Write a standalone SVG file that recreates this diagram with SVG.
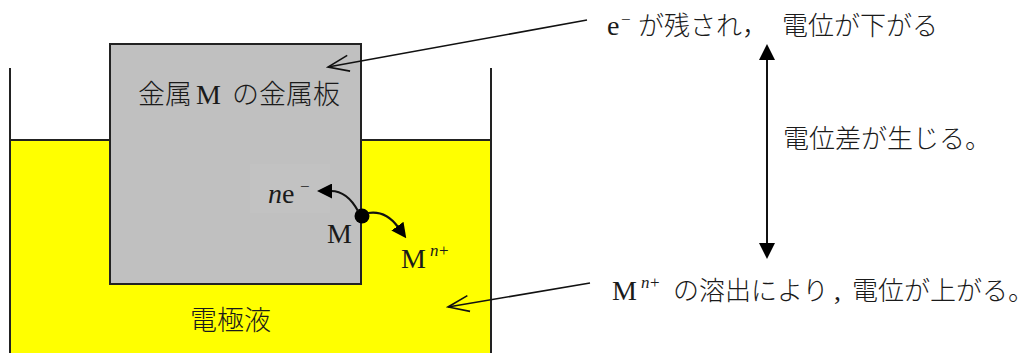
<svg xmlns="http://www.w3.org/2000/svg" width="1034" height="353" viewBox="0 0 1034 353">
<style>
.t{font-family:"Liberation Serif","Noto Sans CJK JP",serif;fill:#1a1a1a;font-size:28px}
.j{font-family:"Noto Sans CJK JP","Liberation Serif",sans-serif;fill:#1a1a1a;font-size:26px;font-weight:300}
.sup{font-size:17px}
.it{font-style:italic}
.wall{stroke:#222;stroke-width:2;fill:none}
.ptr{stroke:#111;stroke-width:1.6;fill:none}
.crv{stroke:#111;stroke-width:2.2;fill:none}
</style>
<defs>
<marker id="open" markerUnits="userSpaceOnUse" viewBox="-24 -11 26 22" refX="0" refY="0" markerWidth="26" markerHeight="22" orient="auto">
<path d="M-21,-8 L0,0 L-21,8" fill="none" stroke="#111" stroke-width="1.6"/>
</marker>
<marker id="tri" markerUnits="userSpaceOnUse" viewBox="0 0 16 16" refX="1" refY="8" markerWidth="16" markerHeight="16" orient="auto-start-reverse">
<path d="M0,0 L16,8 L0,16 z" fill="#000"/>
</marker>
<marker id="tris" markerUnits="userSpaceOnUse" viewBox="0 0 15 15" refX="1" refY="7.5" markerWidth="15" markerHeight="15" orient="auto">
<path d="M0,0 L15,7.5 L0,15 z" fill="#000"/>
</marker>
</defs>

<g id="beaker">
<rect x="10" y="140" width="481" height="215" fill="#ffff00"/>
<line class="wall" x1="10" y1="140" x2="491" y2="140" stroke="#444"/>
<line class="wall" x1="10" y1="68" x2="10" y2="353"/>
<line class="wall" x1="491" y1="68" x2="491" y2="353"/>
<text class="j" x="190" y="330" style="font-size:27px">電極液</text>
</g>

<g id="plate">
<rect x="110" y="44" width="251" height="240" fill="#c0c0c0" stroke="#222" stroke-width="2"/>
<rect x="250" y="164" width="80" height="49" fill="#c2c2c2"/>
<text class="j" x="138" y="104" style="font-size:27px">金属</text>
<text class="t" x="196" y="104">M</text>
<text class="j" x="232" y="104" style="font-size:27px">の金属板</text>
</g>

<g id="atom">
<circle cx="362" cy="216" r="7.5" fill="#000"/>
<text class="t it" x="268" y="203">n</text>
<text class="t" x="282" y="203">e</text>
<text class="t sup" x="300" y="192">−</text>
<text class="t" x="327" y="243">M</text>
<text class="t" x="401" y="268">M</text>
<text class="t sup it" x="430" y="256">n</text>
<text class="t sup" x="439" y="256">+</text>
</g>

<g id="note-top">
<text class="t" x="607" y="35">e</text>
<text class="t sup" x="621" y="25">−</text>
<text class="j" x="638" y="35">が残され，</text>
<text class="j" x="782" y="35">電位が下がる</text>
</g>

<g id="note-mid">
<text class="j" x="783" y="148">電位差が生じる。</text>
</g>

<g id="note-bottom">
<text class="t" x="612" y="300">M</text>
<text class="t sup it" x="641" y="288">n</text>
<text class="t sup" x="650" y="288">+</text>
<text class="j" x="673" y="300">の溶出により</text>
<text class="t" x="834" y="300">,</text>
<text class="j" x="852" y="300">電位が上がる。</text>
</g>

<g id="connectors">
<line class="ptr" x1="587" y1="20" x2="328" y2="67" marker-end="url(#open)"/>
<line class="ptr" x1="590" y1="283" x2="448" y2="307" marker-end="url(#open)"/>
<line x1="767" y1="59" x2="767" y2="244" stroke="#111" stroke-width="2" marker-start="url(#tri)" marker-end="url(#tri)"/>
<path class="crv" d="M358,211 C352,200 343,191 331,191" marker-end="url(#tris)"/>
<path class="crv" d="M368,213 C380,211 390,216 398,227" marker-end="url(#tris)"/>
</g>
</svg>
